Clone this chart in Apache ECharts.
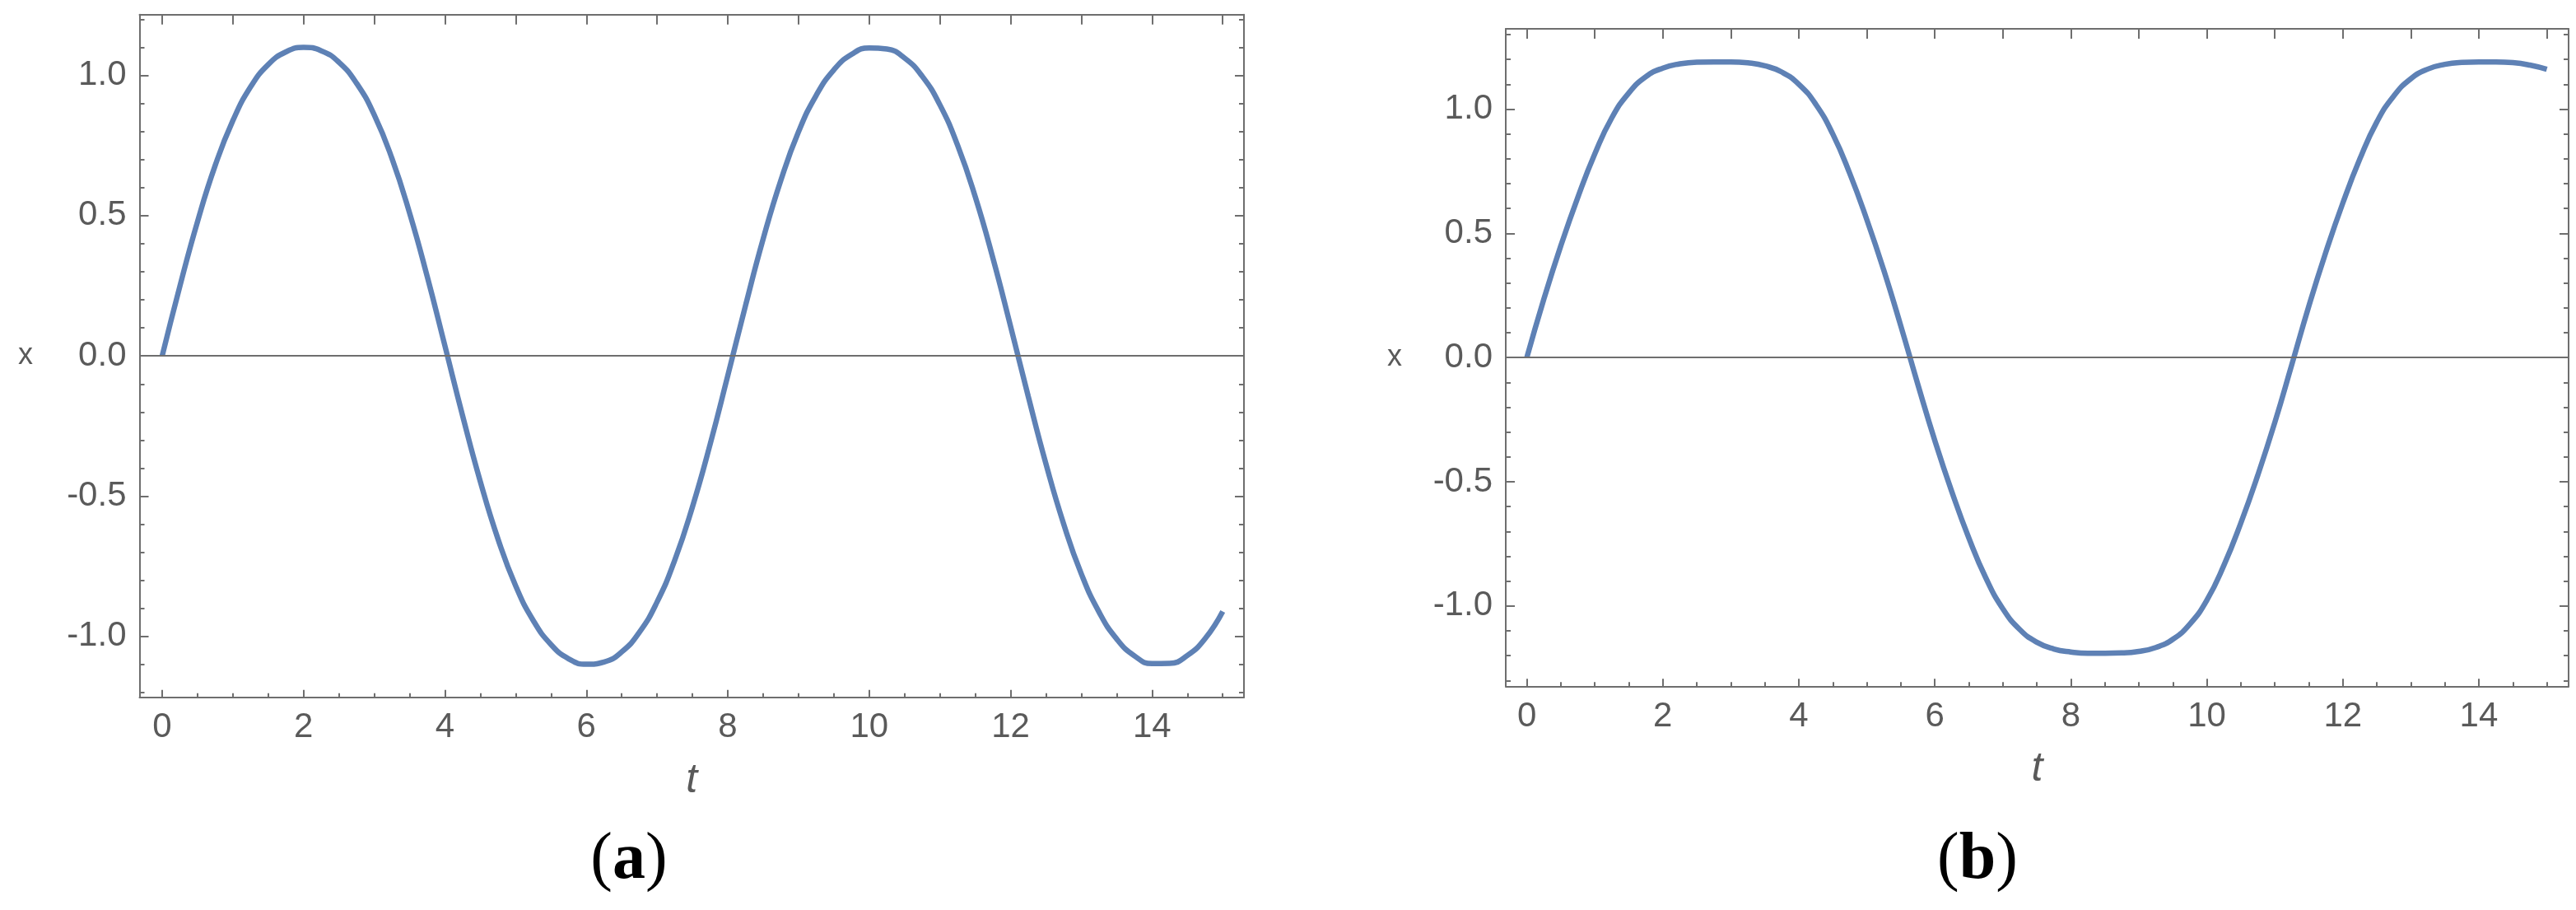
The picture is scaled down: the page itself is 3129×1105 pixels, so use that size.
<!DOCTYPE html>
<html>
<head>
<meta charset="utf-8">
<script src="https://cdn.jsdelivr.net/npm/echarts@6/dist/echarts.min.js"></script>
<style>
  html, body { margin: 0; padding: 0; background: #fff; }
  #chart { width: 3129px; height: 1105px; }
</style>
</head>
<body>
<div id="chart"></div>
<script>
// time samples shared by both panels
const tValues = [
  0, 0.25, 0.5, 0.75, 1, 1.25, 1.5, 1.75, 2, 2.25, 2.5, 2.75, 3, 3.25, 3.5, 3.75,
  4, 4.25, 4.5, 4.75, 5, 5.25, 5.5, 5.75, 6, 6.25, 6.5, 6.75, 7, 7.25, 7.5, 7.75,
  8, 8.25, 8.5, 8.75, 9, 9.25, 9.5, 9.75, 10, 10.25, 10.5, 10.75, 11, 11.25, 11.5, 11.75,
  12, 12.25, 12.5, 12.75, 13, 13.25, 13.5, 13.75, 14, 14.25, 14.5, 14.75, 15
]

// panel (a)
const xValuesA = [
  0, 0.248, 0.479, 0.679, 0.839, 0.959, 1.039, 1.084, 1.100, 1.088, 1.047, 0.972, 0.859, 0.704, 0.509, 0.282,
  0.035, -0.214, -0.448, -0.653, -0.820, -0.944, -1.029, -1.080, -1.099, -1.091, -1.055, -0.985, -0.877, -0.728, -0.538, -0.315,
  -0.070, 0.179, 0.417, 0.626, 0.799, 0.929, 1.020, 1.075, 1.098, 1.094, 1.062, 0.997, 0.895, 0.751, 0.567, 0.348,
  0.105, -0.145, -0.385, -0.599, -0.777, -0.913, -1.009, -1.069, -1.097, -1.096, -1.068, -1.008, -0.911
]

// panel (b)
const xValuesB = [
  0, 0.235, 0.45, 0.645, 0.82, 0.965, 1.065, 1.13, 1.165, 1.182, 1.189, 1.19,
  1.19, 1.186, 1.174, 1.149, 1.100, 1.019, 0.899, 0.740, 0.555, 0.351, 0.127,
  -0.108, -0.334, -0.540, -0.726, -0.887, -1.011, -1.095, -1.146, -1.173, -1.185, -1.19, -1.19,
  -1.189, -1.183, -1.167, -1.134, -1.073, -0.977, -0.837, -0.666, -0.473, -0.261, -0.028,
  0.207, 0.424, 0.622, 0.799, 0.948, 1.053, 1.122, 1.161, 1.180, 1.188, 1.19, 1.19, 1.187, 1.177, 1.160
]

// ticks
const xMajorTicks = [0, 2, 4, 6, 8, 10, 12, 14]
const xMinorTicks = [0.5, 1, 1.5, 2.5, 3, 3.5, 4.5, 5, 5.5, 6.5, 7, 7.5, 8.5, 9, 9.5, 10.5, 11, 11.5, 12.5, 13, 13.5, 14.5, 15]
const xTopTicks = [0, 1, 2, 3, 4, 5, 6, 7, 8, 9, 10, 11, 12, 13, 14, 15]
const yMajorTicks = [-1, -0.5, 0, 0.5, 1]
const yMinorTicksA = [-1.2, -1.1, -0.9, -0.8, -0.7, -0.6, -0.4, -0.3, -0.2, -0.1, 0.1, 0.2, 0.3, 0.4, 0.6, 0.7, 0.8, 0.9, 1.1, 1.2]
const yMinorTicksB = [-1.3, -1.2, -1.1, -0.9, -0.8, -0.7, -0.6, -0.4, -0.3, -0.2, -0.1, 0.1, 0.2, 0.3, 0.4, 0.6, 0.7, 0.8, 0.9, 1.1, 1.2, 1.3]

const frameColor = '#6e6e6e'
const labelColor = '#5a5a5a'
const lineColor = '#5e81b5'
const font = 'Liberation Sans'

const panels = [
  { left: 169.5, top: 17.7, width: 1341.5, height: 829, xMin: -0.32, xMax: 15.3, yMin: -1.217, yMax: 1.217, yMinor: yMinorTicksA, yNameGap: 138.5, data: xValuesA, tag: 'a', tagX: 764 },
  { left: 1829, top: 35, width: 1291, height: 798.3, xMin: -0.31, xMax: 15.32, yMin: -1.323, yMax: 1.323, yMinor: yMinorTicksB, yNameGap: 135, data: xValuesB, tag: 'b', tagX: 2402 }
]

const baseAxis = (gridIndex, min, max, position) => ({
  gridIndex,
  type: 'value',
  min,
  max,
  position,
  offset: 0,
  splitLine: { show: false },
  axisLine: { show: false, onZero: false },
  axisTick: { show: false },
  axisLabel: { show: false }
})

const xAxes = []
const yAxes = []
const series = []

panels.forEach((p, i) => {
  // bottom axis, major ticks and labels
  xAxes.push(Object.assign(baseAxis(i, p.xMin, p.xMax, 'bottom'), {
    name: 't',
    nameLocation: 'middle',
    nameGap: 76,
    nameTextStyle: { color: labelColor, fontFamily: font, fontStyle: 'italic', fontSize: 50 },
    axisLine: { show: true, onZero: false, lineStyle: { color: frameColor, width: 2 } },
    axisTick: { show: true, inside: true, length: 9, customValues: xMajorTicks, lineStyle: { color: frameColor, width: 2 } },
    axisLabel: { show: true, customValues: xMajorTicks, margin: 16, color: labelColor, fontFamily: font, fontSize: 42 }
  }))
  // bottom axis, minor ticks
  xAxes.push(Object.assign(baseAxis(i, p.xMin, p.xMax, 'bottom'), {
    axisTick: { show: true, inside: true, length: 5, customValues: xMinorTicks, lineStyle: { color: frameColor, width: 2 } }
  }))
  // top frame
  xAxes.push(Object.assign(baseAxis(i, p.xMin, p.xMax, 'top'), {
    axisLine: { show: true, onZero: false, lineStyle: { color: frameColor, width: 2 } },
    axisTick: { show: true, inside: true, length: 12, customValues: xTopTicks, lineStyle: { color: frameColor, width: 2 } }
  }))

  // left axis, major ticks and labels
  yAxes.push(Object.assign(baseAxis(i, p.yMin, p.yMax, 'left'), {
    name: 'x',
    nameLocation: 'middle',
    nameRotate: 0,
    nameGap: p.yNameGap,
    nameTextStyle: { color: labelColor, fontFamily: font, fontSize: 36, align: 'center', verticalAlign: 'middle' },
    axisLine: { show: true, onZero: false, lineStyle: { color: frameColor, width: 2 } },
    axisTick: { show: true, inside: true, length: 11, customValues: yMajorTicks, lineStyle: { color: frameColor, width: 2 } },
    axisLabel: { show: true, customValues: yMajorTicks, margin: 16, color: labelColor, fontFamily: font, fontSize: 42, formatter: (v) => v.toFixed(1) }
  }))
  // left axis, minor ticks
  yAxes.push(Object.assign(baseAxis(i, p.yMin, p.yMax, 'left'), {
    axisTick: { show: true, inside: true, length: 6, customValues: p.yMinor, lineStyle: { color: frameColor, width: 2 } }
  }))
  // right frame
  yAxes.push(Object.assign(baseAxis(i, p.yMin, p.yMax, 'right'), {
    axisLine: { show: true, onZero: false, lineStyle: { color: frameColor, width: 2 } },
    axisTick: { show: true, inside: true, length: 11, customValues: yMajorTicks, lineStyle: { color: frameColor, width: 2 } }
  }))
  yAxes.push(Object.assign(baseAxis(i, p.yMin, p.yMax, 'right'), {
    axisTick: { show: true, inside: true, length: 6, customValues: p.yMinor, lineStyle: { color: frameColor, width: 2 } }
  }))

  series.push({
    type: 'line',
    xAxisIndex: i * 3,
    yAxisIndex: i * 4,
    data: tValues.map((t, k) => [t, p.data[k]]),
    showSymbol: false,
    smooth: true,
    lineStyle: { color: lineColor, width: 6.5 },
    markLine: {
      silent: true,
      symbol: 'none',
      label: { show: false },
      lineStyle: { color: frameColor, width: 2, type: 'solid' },
      data: [{ yAxis: 0 }]
    }
  })
})

const myChart = echarts.init(document.getElementById('chart'))
myChart.setOption({
  backgroundColor: '#ffffff',
  animation: false,
  grid: panels.map((p) => ({ left: p.left, top: p.top, width: p.width, height: p.height, containLabel: false })),
  xAxis: xAxes,
  yAxis: yAxes,
  series,
  graphic: panels.map((p) => ({
    type: 'text',
    x: p.tagX,
    y: 1045,
    style: {
      text: '{p|(}{b|' + p.tag + '}{p|)}',
      align: 'center',
      verticalAlign: 'middle',
      rich: {
        p: { fontFamily: 'Liberation Serif', fontSize: 80, fill: '#000' },
        b: { fontFamily: 'Liberation Serif', fontSize: 80, fontWeight: 'bold', fill: '#000' }
      }
    }
  }))
})
</script>
</body>
</html>
